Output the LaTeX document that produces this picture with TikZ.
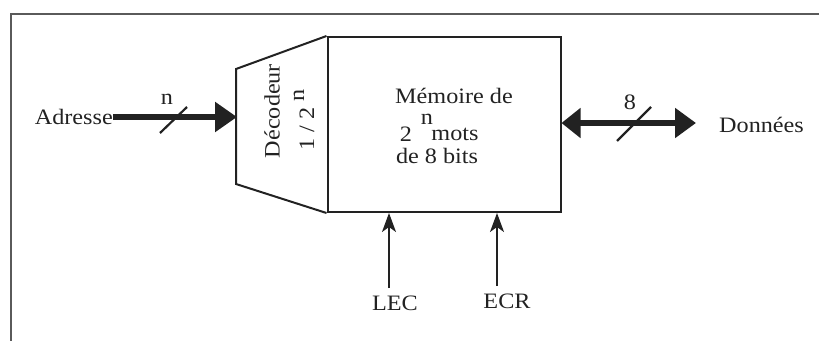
\documentclass[tikz,border=0pt]{standalone}
\usepackage{fontspec}
\setmainfont{Liberation Serif}[FakeStretch=1.1]
\usetikzlibrary{arrows.meta}
\definecolor{ink}{HTML}{222222}
\definecolor{framegray}{HTML}{5A5A5A}
\tikzset{
  lbl/.style={inner sep=0pt, font=\fontsize{22}{24}\selectfont, text=ink},
  boxline/.style={draw=ink, line width=2pt},
  busarrow/.style={draw=ink, line width=6.5pt},
  busslash/.style={draw=ink, line width=2.2pt},
  ctrlarrow/.style={draw=ink, line width=1.6pt, -{Stealth[length=19pt,width=14pt,inset=5pt]}},
}
\begin{document}
\begin{tikzpicture}[x=1pt,y=-1pt]
\useasboundingbox (0,0) rectangle (819,340);
% frame
\draw[framegray, line width=2.5pt] (11,345) -- (11,14) -- (825,14);
% memory block
\node[boxline, minimum width=233pt, minimum height=175pt, inner sep=0pt] (mem) at (444,124.5) {};
% decoder trapezoid
\coordinate (dectl) at (236,69);
\coordinate (decbl) at (236,184);
\draw[boxline, line join=miter] (mem.north west) -- (dectl) -- (decbl) -- (mem.south west);
\coordinate (decin) at (237,117);
% decoder text
\node[lbl, rotate=90] (dect1) at (272,111) {Décodeur};
\node[lbl, rotate=90] (dect2) at (304,120) {1 / 2 \raisebox{0.45em}{n}};
% memory text
\node[lbl] (m1) at (454,96) {Mémoire de};
\node[lbl] (m2) at (406,134) {2};
\node[lbl] (m3) at (427,119) {n};
\node[lbl] (m4) at (455,134) {mots};
\node[lbl] (m5) at (437,156) {de 8 bits};
% address
\node[lbl, anchor=east] (adr) at (113,117) {Adresse};
\draw[busarrow, -{Triangle[length=22pt,width=29pt]}] (adr.east) -- (decin);
\coordinate (s1a) at (160,133);
\coordinate (s1b) at (187,107);
\draw[busslash] (s1a) -- (s1b);
\node[lbl] (nlab) at (167,99) {n};
% data
\coordinate (dout) at (696,123);
\node[lbl, anchor=west] (don) at (719,125) {Données};
\draw[busarrow, {Triangle[length=19pt,width=29pt]}-{Triangle[length=21pt,width=29pt]}] (mem.east |- dout) -- (dout);
\coordinate (s2a) at (617,141);
\coordinate (s2b) at (651,107);
\draw[busslash] (s2a) -- (s2b);
\node[lbl] (eight) at (630,102) {8};
% control
\node[lbl] (lec) at (395,303) {LEC};
\node[lbl] (ecr) at (507,301) {ECR};
\coordinate (lecb) at (389,288);
\coordinate (ecrb) at (497,286);
\draw[ctrlarrow] (lecb) -- (lecb |- mem.south);
\draw[ctrlarrow] (ecrb) -- (ecrb |- mem.south);
\end{tikzpicture}
\end{document}
